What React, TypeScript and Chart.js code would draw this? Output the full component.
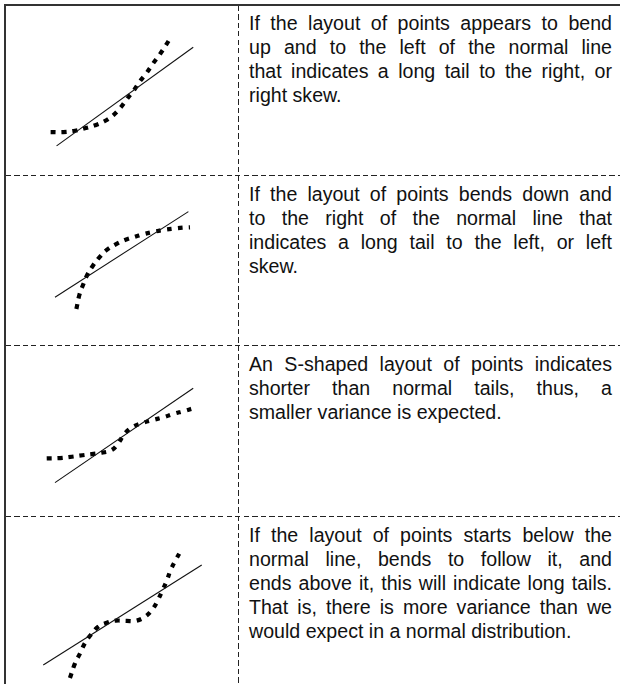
import React, { useEffect, useRef } from "react";
import { Chart, registerables } from "chart.js";

Chart.register(...registerables);

// Panel 1: right skew
const normalLine1X = [2.2, 8.14];
const normalLine1Y = [1.52, 7.5];
const points1X = [1.94, 2.49, 3.0, 3.43, 3.87, 4.3, 4.67, 4.99, 5.27, 5.57, 5.83, 6.12, 6.4, 6.7, 6.96, 7.2];
const points1Y = [2.36, 2.36, 2.44, 2.59, 2.77, 3.03, 3.39, 3.86, 4.38, 4.91, 5.45, 5.96, 6.53, 7.09, 7.64, 8.18];

// Panel 2: left skew
const normalLine2X = [2.13, 7.93];
const normalLine2Y = [2.71, 7.9];
const points2X = [3.06, 3.19, 3.36, 3.53, 3.77, 4.06, 4.38, 4.77, 5.17, 5.57, 5.97, 6.4, 6.84, 7.27, 7.71, 8.0];
const points2Y = [2.0, 2.85, 3.5, 4.06, 4.61, 5.13, 5.58, 5.92, 6.18, 6.36, 6.53, 6.67, 6.79, 6.87, 6.93, 6.95];

// Panel 3: short tails (S-shape)
const normalLine3X = [2.13, 8.14];
const normalLine3Y = [1.78, 7.5];
const points3X = [1.77, 2.35, 2.86, 3.33, 3.8, 4.16, 4.6, 4.88, 5.17, 5.53, 5.97, 6.4, 6.84, 7.27, 7.74, 8.22];
const points3Y = [3.25, 3.27, 3.35, 3.44, 3.52, 3.59, 3.76, 4.16, 4.77, 5.17, 5.41, 5.58, 5.74, 5.94, 6.12, 6.32];

// Panel 4: long tails
const normalLine4X = [1.62, 8.51];
const normalLine4Y = [1.09, 7.15];
const points4X = [2.78, 3.0, 3.22, 3.43, 3.68, 4.01, 4.38, 4.78, 5.25, 5.68, 6.09, 6.4, 6.62, 6.81, 6.99, 7.16, 7.38, 7.6];
const points4Y = [0.3, 1.19, 1.8, 2.41, 2.91, 3.41, 3.65, 3.78, 3.76, 3.78, 4.06, 4.53, 5.07, 5.64, 6.2, 6.85, 7.45, 8.0];

const axisMin = 0;
const axisMax = 10;

const descriptions: string[][] = [
  [
    "If the layout of points appears to bend",
    "up and to the left of the normal line",
    "that indicates a long tail to the right, or",
    "right skew.",
  ],
  [
    "If the layout of points bends down and",
    "to the right of the normal line that",
    "indicates a long tail to the left, or left",
    "skew.",
  ],
  [
    "An S-shaped layout of points indicates",
    "shorter than normal tails, thus, a",
    "smaller variance is expected.",
  ],
  [
    "If the layout of points starts below the",
    "normal line, bends to follow it, and",
    "ends above it, this will indicate long tails.",
    "That is, there is more variance than we",
    "would expect in a normal distribution.",
  ],
];

const panels = [
  { lx: normalLine1X, ly: normalLine1Y, px: points1X, py: points1Y },
  { lx: normalLine2X, ly: normalLine2Y, px: points2X, py: points2Y },
  { lx: normalLine3X, ly: normalLine3Y, px: points3X, py: points3Y },
  { lx: normalLine4X, ly: normalLine4Y, px: points4X, py: points4Y },
];

const rowTops = [4, 175, 345, 516];
const colDivX = 238;
const W = 620;
const H = 684;

function toXY(xs: number[], ys: number[]) {
  return xs.map((x, i) => ({ x, y: ys[i] }));
}

function QQPanel({ idx }: { idx: number }) {
  const ref = useRef<HTMLCanvasElement>(null);
  useEffect(() => {
    const p = panels[idx];
    const chart = new Chart(ref.current!, {
      type: "scatter",
      data: {
        datasets: [
          {
            data: toXY(p.lx, p.ly),
            showLine: true,
            borderColor: "#111",
            borderWidth: 1.1,
            pointRadius: 0,
            fill: false,
          },
          {
            data: toXY(p.px, p.py),
            showLine: true,
            borderColor: "#000",
            borderWidth: 4.2,
            borderDash: [4.8, 6.2],
            borderCapStyle: "butt",
            tension: 0.4,
            pointRadius: 0,
            fill: false,
          },
        ],
      },
      options: {
        animation: false,
        responsive: false,
        maintainAspectRatio: false,
        events: [],
        layout: { padding: 0 },
        plugins: { legend: { display: false }, tooltip: { enabled: false } },
        scales: {
          x: { type: "linear", min: axisMin, max: axisMax, display: false },
          y: { type: "linear", min: axisMin, max: axisMax, display: false },
        },
      },
    });
    return () => chart.destroy();
  }, [idx]);
  const top = rowTops[idx] + 2;
  return (
    <canvas
      ref={ref}
      width={230}
      height={165}
      style={{ position: "absolute", left: 6, top, width: 230, height: 165 }}
    />
  );
}

const dashH =
  "repeating-linear-gradient(to right, #222 0px, #222 5px, transparent 5px, transparent 8.5px)";
const dashV =
  "repeating-linear-gradient(to bottom, #222 0px, #222 5px, transparent 5px, transparent 8.5px)";

export default function App() {
  return (
    <div
      style={{
        position: "absolute",
        left: 0,
        top: 0,
        width: W,
        height: H,
        overflow: "hidden",
        background: "#fff",
        fontFamily: "'Liberation Sans', Arial, Helvetica, sans-serif",
      }}
    >
      {/* outer solid border: top and left */}
      <div style={{ position: "absolute", left: 4, top: 4, width: W - 4, height: 2, background: "#333" }} />
      <div style={{ position: "absolute", left: 4, top: 4, width: 2, height: H - 4, background: "#333" }} />
      {/* column divider */}
      <div style={{ position: "absolute", left: colDivX, top: 6, width: 1, height: H - 6, background: dashV }} />
      {/* row dividers */}
      {rowTops.slice(1).map((t, i) => (
        <div key={i} style={{ position: "absolute", left: 6, top: t, width: W - 6, height: 1, background: dashH }} />
      ))}
      {panels.map((_, i) => (
        <QQPanel key={i} idx={i} />
      ))}
      {descriptions.map((lines, i) => (
        <div
          key={i}
          style={{
            position: "absolute",
            left: 249,
            top: rowTops[i] + 7,
            width: 363,
            fontSize: 19.6,
            lineHeight: "24px",
            color: "#111",
          }}
        >
          {lines.map((ln, j) => (
            <div
              key={j}
              style={{
                textAlign: "justify",
                textAlignLast: j < lines.length - 1 ? "justify" : "left",
                whiteSpace: "nowrap",
              }}
            >
              {ln}
            </div>
          ))}
        </div>
      ))}
    </div>
  );
}
